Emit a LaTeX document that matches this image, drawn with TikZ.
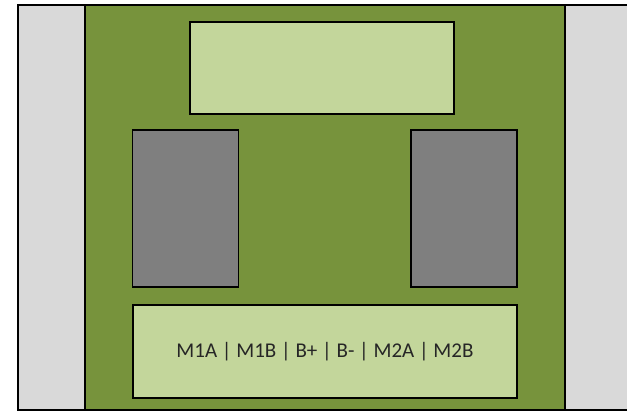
\documentclass[tikz,border=0pt]{standalone}
\usepackage{fontspec}
\setmainfont{Carlito}
\usetikzlibrary{positioning}
\definecolor{railgray}{HTML}{D9D9D9}
\definecolor{boardgreen}{HTML}{77933C}
\definecolor{padgreen}{HTML}{C3D69B}
\definecolor{chipgray}{HTML}{7F7F7F}

\begin{document}
\begin{tikzpicture}[x=1pt,y=1pt,
  part/.style={rectangle,draw=black,line width=1.4pt,inner sep=0pt},
  rail/.style={part,fill=railgray,minimum width=67pt,minimum height=405pt},
  chip/.style={part,fill=chipgray,minimum width=106pt,minimum height=157pt}
]
\useasboundingbox (0,0) rectangle (627,411);

% Rails and board
\node[rail]                 (lrail) at (51.5,203.5) {};
\node[rail]                 (rrail) at (598.5,203.5) {};
\node[part,fill=boardgreen,minimum width=480pt,minimum height=405pt]
      (board) at (325,203.5) {};

% Display on top
\node[part,fill=padgreen,minimum width=264pt,minimum height=92pt]
      (disp) at (322,343) {};

% Two driver chips
\node[chip] (drvl) at (185.5,202.5) {};
\node[chip] (drvr) at (464,202.5) {};

% Terminal strip
\node[part,fill=padgreen,minimum width=384pt,minimum height=93pt,
      font=\fontsize{21}{24}\selectfont,text=black!85]
      (term) at (325,59.5) {M1A | M1B | B+ | B- | M2A | M2B};

\end{tikzpicture}
\end{document}
